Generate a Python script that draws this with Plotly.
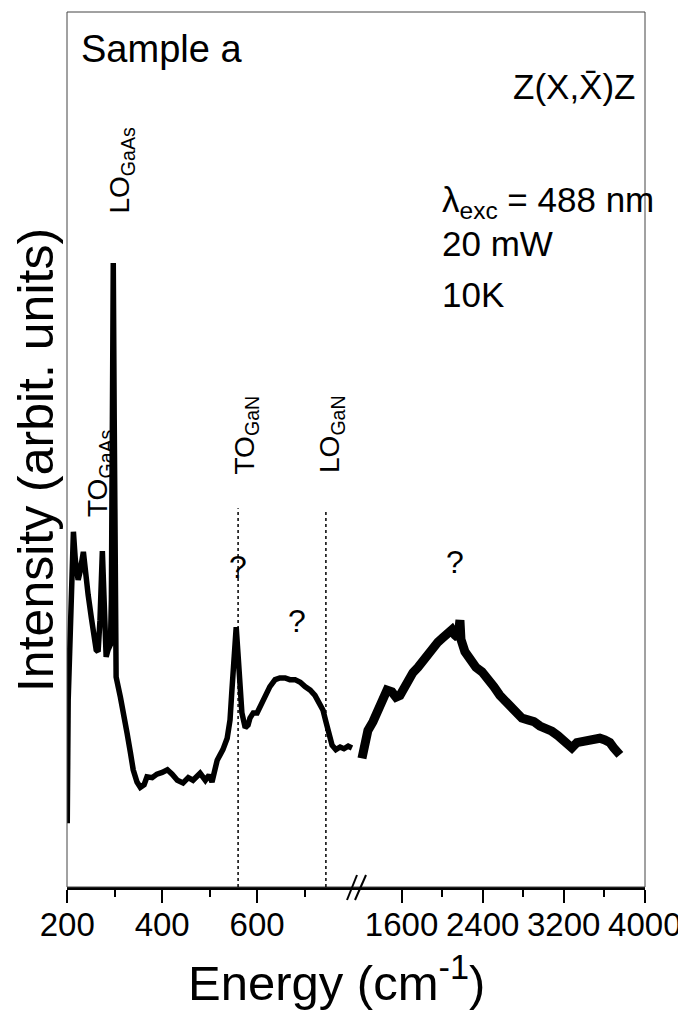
import plotly.graph_objects as go

# ---------------- data ----------------
# low-energy segment (cm^-1) and intensity (arbitrary units, 0-100)
left_x = [200, 202, 213, 217, 223, 227, 234, 238, 244, 251, 257, 261, 265, 269, 274, 278,
          282, 286, 291, 293, 295, 297, 299, 301, 303, 312, 320, 326, 333, 339, 347, 354,
          362, 368, 379, 389, 400, 411, 421, 432, 444, 455, 465, 480, 491, 499, 505, 512,
          516, 522, 528, 537, 543, 547, 552, 556, 560, 564, 568, 575, 581, 585, 592, 600,
          606, 617, 627, 638, 648, 659, 669, 680, 691, 701, 712, 722, 731, 739, 745, 752,
          758, 766, 775, 783, 792, 800]
left_y = [7.3, 21.4, 40.6, 37.4, 35.1, 36.0, 38.3, 35.7, 33.4, 30.7, 28.2, 27.1, 26.9, 30.5, 38.4, 31.7,
          26.3, 27.1, 27.7, 32.8, 53.4, 71.3, 53.4, 30.5, 24.0, 21.7, 19.7, 17.6, 15.4, 13.4, 12.0, 11.4,
          11.7, 12.6, 12.5, 12.9, 13.1, 13.4, 12.9, 12.2, 11.9, 12.5, 12.2, 13.0, 12.2, 12.8, 12.0, 13.4,
          14.5, 15.1, 15.7, 17.0, 19.1, 22.5, 26.5, 29.7, 26.5, 22.5, 19.9, 18.2, 18.5, 19.3, 19.9, 19.9,
          20.6, 21.9, 22.9, 23.7, 23.9, 23.9, 23.7, 23.7, 23.4, 22.9, 22.5, 21.9, 21.1, 20.2, 18.9, 17.1,
          16.2, 15.7, 16.0, 15.8, 16.1, 15.9]

# high-energy segment
right_x = [1209, 1229, 1268, 1318, 1367, 1416, 1456, 1505, 1545, 1584, 1624, 1663, 1712, 1762,
           1811, 1860, 1910, 1959, 2008, 2057, 2097, 2127, 2156, 2176, 2186, 2225, 2274, 2334,
           2393, 2452, 2511, 2570, 2630, 2679, 2728, 2787, 2846, 2906, 2965, 3024, 3083, 3142,
           3192, 3241, 3280, 3330, 3389, 3448, 3507, 3556, 3606, 3655, 3694, 3734, 3754]
right_y = [14.7, 16.2, 17.9, 18.9, 20.2, 21.6, 22.5, 22.3, 21.7, 21.9, 22.7, 23.7, 24.5, 25.1,
           25.9, 26.7, 27.3, 28.0, 28.5, 29.0, 29.4, 28.8, 28.5, 30.5, 28.3, 26.9, 25.9, 25.1,
           24.6, 23.9, 22.9, 21.9, 21.1, 20.5, 19.7, 19.3, 19.1, 18.9, 18.4, 18.2, 17.8, 17.3,
           16.8, 16.1, 15.9, 16.5, 16.7, 16.8, 17.0, 17.0, 16.8, 16.5, 15.9, 15.3, 15.1]

left_range = [199.5, 810.5]
right_range = [1160, 4002]
left_ticks = [200, 400, 600]
left_minor = [300, 500, 700]
right_ticks = [1600, 2400, 3200, 4000]
right_minor = [2000, 2800, 3600]
mode_lines = [560, 745]  # TO(GaN), LO(GaN)

FONT = "Liberation Sans, Arial, sans-serif"
BREAK = 0.5017

fig = go.Figure()
fig.add_trace(go.Scatter(x=left_x, y=left_y, mode="lines", xaxis="x", yaxis="y",
                         line=dict(color="black", width=5.5), showlegend=False))
fig.add_trace(go.Scatter(x=right_x, y=right_y, mode="lines", xaxis="x2", yaxis="y",
                         line=dict(color="black", width=9), showlegend=False))

axis_common = dict(showgrid=False, zeroline=False, showline=True, linewidth=2.5, linecolor="black",
                   ticks="outside", ticklen=13, tickwidth=2, tickcolor="black",
                   ticklabelstandoff=-6,
                   tickfont=dict(family=FONT, size=33, color="black"), anchor="y")
fig.update_layout(
    width=678, height=1007, autosize=False,
    margin=dict(l=59, r=41, t=4, b=128),
    plot_bgcolor="white", paper_bgcolor="white",
    xaxis=dict(domain=[0, BREAK], range=left_range, tickvals=left_ticks,
               ticktext=[str(v) for v in left_ticks],
               minor=dict(tickvals=left_minor, ticks="outside", ticklen=7, tickwidth=2, tickcolor="black"),
               **axis_common),
    xaxis2=dict(domain=[BREAK, 1], range=right_range, tickvals=right_ticks,
                ticktext=[str(v) for v in right_ticks],
                minor=dict(tickvals=right_minor, ticks="outside", ticklen=7, tickwidth=2, tickcolor="black"),
                **axis_common),
    yaxis=dict(range=[0, 100], showticklabels=False, ticks="", showgrid=False, zeroline=False,
               showline=False),
)

shapes = [dict(type="rect", xref="paper", yref="paper", x0=0, x1=1, y0=0, y1=1,
               line=dict(color="#444", width=1))]
for xv, ytop in zip(mode_lines, [0.433, 0.4286]):
    shapes.append(dict(type="line", xref="x", yref="paper", x0=xv, x1=xv, y0=0, y1=ytop,
                       line=dict(color="black", width=1.5, dash="dot")))
# axis-break marks
for (x0, x1) in [(347, 357), (355, 366)]:
    shapes.append(dict(type="line", xref="paper", yref="paper",
                       x0=(x0 - 67) / 578, x1=(x1 - 67) / 578,
                       y0=(887 - 900) / 875, y1=(887 - 875) / 875,
                       line=dict(color="black", width=2)))
fig.update_layout(shapes=shapes)

def ann(text, x, y, size, xanchor="center", yanchor="middle", angle=0):
    return dict(text=text, x=x, y=y, xref="paper", yref="paper", showarrow=False,
                xanchor=xanchor, yanchor=yanchor, textangle=angle,
                font=dict(family=FONT, size=size, color="black"))

annotations = [
    ann("Sample a", 0.0208, 0.9577, 38, xanchor="left"),
    ann("Z(X,X\u0304)Z", 0.9862, 0.9154, 35, xanchor="right"),
    ann("\u03bb<sub>exc</sub> = 488 nm", 0.6453, 0.7829, 35, xanchor="left"),
    ann("20 mW", 0.6453, 0.7349, 35, xanchor="left"),
    ann("10K", 0.6453, 0.6777, 35, xanchor="left"),
    ann("LO<sub>GaAs</sub>", 0.0952, 0.7668, 28, yanchor="bottom", angle=-90),
    ann("TO<sub>GaAs</sub>", 0.0571, 0.4206, 28, yanchor="bottom", angle=-90),
    ann("TO<sub>GaN</sub>", 0.3097, 0.4686, 28, yanchor="bottom", angle=-90),
    ann("LO<sub>GaN</sub>", 0.4585, 0.4709, 28, yanchor="bottom", angle=-90),
    ann("?", 0.2958, 0.3657, 32),
    ann("?", 0.3979, 0.3040, 32),
    ann("?", 0.6713, 0.3714, 32),
    ann("Intensity (arbit. units)", -0.0536, 0.488, 50, angle=-90),
    ann("Energy (cm<sup>-1</sup>)", 0.4671, -0.105, 49),
]
fig.update_layout(annotations=annotations)

fig.write_html("out.html")
